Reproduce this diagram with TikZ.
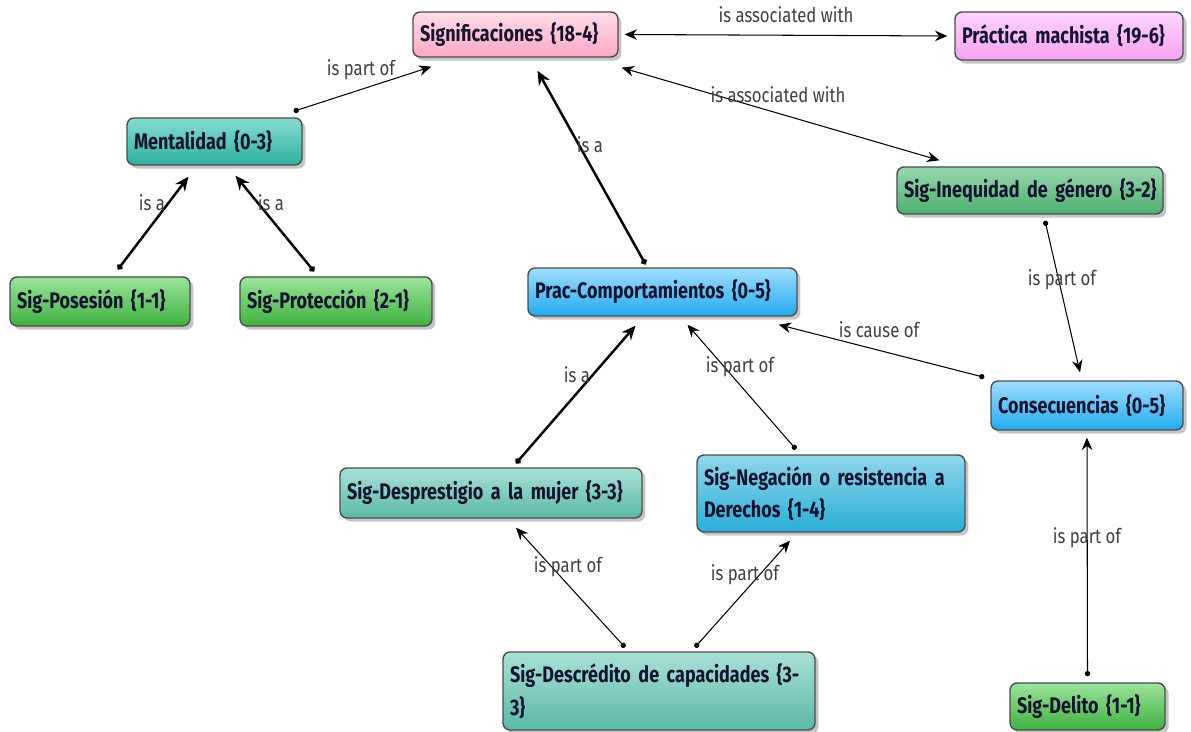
\documentclass[tikz,border=0pt]{standalone}
\usepackage{fontspec}
\setmainfont{Fira Sans}
\newfontfamily\nodefont{Fira Sans}[FakeStretch=0.80, WordSpace=0.7]
\newfontfamily\labfont{Fira Sans}[FakeStretch=0.82]
\usetikzlibrary{shadows,arrows.meta,calc}
\definecolor{navy}{HTML}{141430}
\definecolor{pinkT}{HTML}{FFDCE8}
\definecolor{pinkB}{HTML}{FFA8C6}
\definecolor{violT}{HTML}{FFD4FF}
\definecolor{violB}{HTML}{F6A2F2}
\definecolor{tealT}{HTML}{86DCD0}
\definecolor{tealB}{HTML}{2EB0A0}
\definecolor{lteaT}{HTML}{A8E0D6}
\definecolor{lteaB}{HTML}{5CB8A8}
\definecolor{grnT}{HTML}{9AE49A}
\definecolor{grnB}{HTML}{40B040}
\definecolor{igrT}{HTML}{98D8AE}
\definecolor{igrB}{HTML}{4EAE6E}
\definecolor{bluT}{HTML}{A0DCFF}
\definecolor{bluB}{HTML}{22AAEE}
\definecolor{nbluT}{HTML}{90D6EC}
\definecolor{nbluB}{HTML}{2AAED6}
\tikzset{
  box/.style={draw=black!70, line width=0.8pt, rounded corners=4pt, align=left,
    inner xsep=0.14cm, inner ysep=0pt, text=navy,
    font=\nodefont\bfseries\fontsize{12.8}{18.5}\selectfont,
    drop shadow={shadow xshift=2pt, shadow yshift=-2pt, opacity=0.45}},
  pinkbox/.style={box, top color=pinkT, bottom color=pinkB},
  violbox/.style={box, top color=violT, bottom color=violB},
  tealbox/.style={box, top color=tealT, bottom color=tealB},
  lteabox/.style={box, top color=lteaT, bottom color=lteaB},
  grnbox/.style={box, top color=grnT, bottom color=grnB},
  igrbox/.style={box, top color=igrT, bottom color=igrB},
  blubox/.style={box, top color=bluT, bottom color=bluB},
  nblubox/.style={box, top color=nbluT, bottom color=nbluB},
  rel/.style={{Circle[length=3pt]}-{Stealth[length=7pt,width=6pt]}, line width=0.6pt, black},
  isa/.style={{Circle[length=3.5pt]}-{Stealth[length=8pt,width=7pt]}, line width=1.4pt, black},
  dbl/.style={{Stealth[length=7pt,width=6pt]}-{Stealth[length=7pt,width=6pt]}, line width=0.6pt, black},
  lab/.style={font=\labfont\fontsize{11.6}{13}\selectfont, text=black!75, inner sep=1pt}
}
\begin{document}
\begin{tikzpicture}[x=0.02cm,y=-0.02cm]
\useasboundingbox[fill=white] (0,0) rectangle (1191,732);
% nodes
\node[pinkbox, text width=3.82cm, minimum height=0.9cm] (sig) at (515.5,34.5) {Significaciones {\{}18-4{\}}};
\node[violbox, text width=4.28cm, minimum height=0.96cm] (mach) at (1069,36) {Práctica machista {\{}19-6{\}}};
\node[tealbox, text width=3.22cm, minimum height=0.94cm] (ment) at (214.5,141.5) {Mentalidad {\{}0-3{\}}};
\node[igrbox, text width=5.16cm, inner xsep=0.08cm, minimum height=0.94cm] (ineq) at (1030,190.5) {\hspace*{0.06cm}Sig-Inequidad de género {\{}3-2{\}}};
\node[grnbox, text width=3.32cm, minimum height=0.98cm] (pos) at (100,301.5) {Sig-Posesión {\{}1-1{\}}};
\node[grnbox, text width=3.56cm, minimum height=0.98cm] (prot) at (336,301.5) {Sig-Protección {\{}2-1{\}}};
\node[blubox, text width=5.1cm, minimum height=0.96cm] (prac) at (662.5,292) {Prac-Comportamientos {\{}0-5{\}}};
\node[blubox, text width=3.56cm, minimum height=0.98cm] (cons) at (1087,405.5) {Consecuencias {\{}0-5{\}}};
\node[lteabox, text width=5.76cm, minimum height=1.0cm] (desp) at (491,493) {Sig-Desprestigio a la mujer {\{}3-3{\}}};
\node[nblubox, text width=5.08cm, minimum height=1.54cm] (neg) at (831,493.5) {Sig-Negación o resistencia a\\Derechos {\{}1-4{\}}};
\node[lteabox, text width=5.96cm, minimum height=1.56cm] (desc) at (659,691) {Sig-Descrédito de capacidades {\{}3-\\3{\}}};
\node[grnbox, text width=2.82cm, minimum height=0.94cm] (del) at (1087.5,706.5) {Sig-Delito {\{}1-1{\}}};
% connectors
\draw[dbl] ($(sig.east)+(6,0)$) -- ($(mach.west)+(-7,0)$);
\draw[dbl] ($(sig.south east)+(3,10)$) -- ($(ineq.north west)+(43,-6)$);
\draw[rel] ($(ment.north east)+(-9,-6)$) -- ($(sig.south west)+(19,9)$);
\draw[isa] ($(prac.north)+(-17,-3)$) -- ($(sig.south)+(22,13)$);
\draw[isa] ($(pos.north)+(18,-7)$) -- ($(ment.south)+(-26,11)$);
\draw[isa] ($(prot.north)+(-22,-5)$) -- ($(ment.south)+(21,10)$);
\draw[rel] ($(ineq.south)+(15,6)$) -- ($(cons.north)+(-7,-8)$);
\draw[rel] ($(cons.north west)+(-6,-3)$) -- ($(prac.south east)+(-19,8)$);
\draw[rel] ($(del.north)+(0,-6)$) -- ($(cons.south)+(0,7)$);
\draw[isa] ($(desp.north)+(25,-4)$) -- ($(prac.south)+(-27,9)$);
\draw[rel] ($(neg.north)+(-35,-5)$) -- ($(prac.south)+(25,8)$);
\draw[rel] ($(desc.north)+(-34,-4)$) -- ($(desp.south)+(25,9)$);
\draw[rel] ($(desc.north)+(36,-4)$) -- ($(neg.south)+(-41,8)$);
% labels
\node[lab] (l1) at (786,15) {is associated with};
\node[lab] (l2) at (778,95) {is associated with};
\node[lab] (l3) at (361,70) {is part of};
\node[lab] (l4) at (590,145) {is a};
\node[lab] (l5) at (152,203) {is a};
\node[lab] (l6) at (271,203) {is a};
\node[lab] (l7) at (1062,280) {is part of};
\node[lab] (l8) at (879,330) {is cause of};
\node[lab] (l9) at (1087,538) {is part of};
\node[lab] (l10) at (577,375) {is a};
\node[lab] (l11) at (740,367) {is part of};
\node[lab] (l12) at (568,567) {is part of};
\node[lab] (l13) at (745,575) {is part of};
\end{tikzpicture}
\end{document}
